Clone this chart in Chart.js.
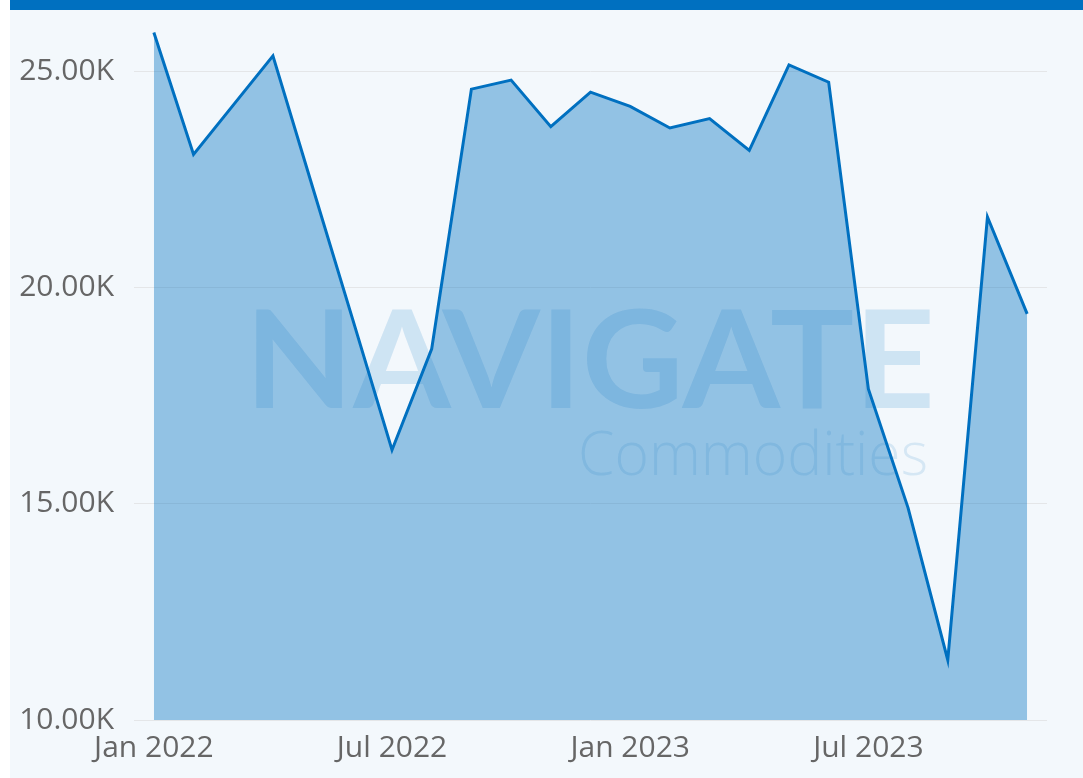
<!DOCTYPE html>
<html>
<head>
<meta charset="utf-8">
<script src="https://cdn.jsdelivr.net/npm/chart.js@4"></script>
<style>
  html, body { margin: 0; padding: 0; background: #ffffff; }
  #wrap { position: absolute; left: 10px; top: 0; width: 1073px; height: 778px; background: #f3f8fc; }
  #bar { position: absolute; left: 0; top: 0; width: 1073px; height: 10px; background: #0070c0; }
  #box { position: absolute; left: 0; top: 10px; width: 1073px; height: 768px; }
</style>
</head>
<body>
<div id="wrap">
  <div id="bar"></div>
  <div id="box"><canvas id="myChart" width="1073" height="768"></canvas></div>
</div>
<script>
const months = [
  "Jan 2022", "Feb 2022", "Mar 2022", "Apr 2022", "May 2022", "Jun 2022",
  "Jul 2022", "Aug 2022", "Sep 2022", "Oct 2022", "Nov 2022", "Dec 2022",
  "Jan 2023", "Feb 2023", "Mar 2023", "Apr 2023", "May 2023", "Jun 2023",
  "Jul 2023", "Aug 2023", "Sep 2023", "Oct 2023", "Nov 2023"
];
const values = [
  25910, 23090, 24230, 25370, 22330, 19300,
  16250, 18590, 24600, 24810, 23730, 24530,
  24200, 23700, 23920, 23180, 25160, 24760,
  17660, 14910, 11390, 21640, 19400
];
const xTickLabels = ["Jan 2022", "Jul 2022", "Jan 2023", "Jul 2023"];
const yTicks = [10000, 15000, 20000, 25000];

// faint logo behind the area
const watermark = {
  id: "watermark",
  beforeDatasetsDraw(c) {
    const ctx = c.ctx;
    ctx.save();
    ctx.fillStyle = "rgba(0,112,192,0.15)";
    ctx.textBaseline = "alphabetic";
    ctx.font = "bold 136px Lato";
    let w = ctx.measureText("NAVIGATE").width;
    ctx.translate(235, 398);
    ctx.scale(690 / w, 1);
    ctx.fillText("NAVIGATE", 0, 0);
    ctx.restore();

    ctx.save();
    ctx.fillStyle = "rgba(0,112,192,0.12)";
    ctx.font = "300 60px 'Open Sans'";
    w = ctx.measureText("Commodities").width;
    ctx.translate(568, 465);
    ctx.scale(350 / w, 1);
    ctx.fillText("Commodities", 0, 0);
    ctx.restore();
  }
};

new Chart(document.getElementById("myChart"), {
  type: "line",
  data: {
    labels: months,
    datasets: [{
      data: values,
      borderColor: "#0070c0",
      borderWidth: 3,
      backgroundColor: "rgba(0,112,192,0.4)",
      fill: "origin",
      pointRadius: 0,
      tension: 0
    }]
  },
  options: {
    responsive: false,
    animation: false,
    layout: { padding: { top: 10, right: 36, left: 0, bottom: 0 } },
    plugins: { legend: { display: false }, tooltip: { enabled: false } },
    scales: {
      x: {
        offset: true,
        grid: { display: false },
        border: { display: false },
        ticks: {
          autoSkip: false,
          maxRotation: 0,
          padding: 2,
          color: "#666666",
          font: { family: "'Open Sans'", size: 30 },
          callback: function (v, i) {
            const l = months[i];
            return xTickLabels.includes(l) ? l : "";
          }
        },
        afterFit(s) { s.height = 58; s.paddingLeft = 0; s.paddingRight = 0; }
      },
      y: {
        min: 10000,
        max: 26200,
        afterBuildTicks(s) { s.ticks = yTicks.map(v => ({ value: v })); },
        grid: { color: "#e4e6e8", lineWidth: 1, drawTicks: false },
        border: { display: false },
        ticks: {
          padding: 20,
          color: "#666666",
          font: { family: "'Open Sans'", size: 30 },
          callback: v => (v / 1000).toFixed(2) + "K"
        },
        afterFit(s) { s.width = 124; s.paddingTop = 0; s.paddingBottom = 0; }
      }
    }
  },
  plugins: [watermark]
});
</script>
</body>
</html>
